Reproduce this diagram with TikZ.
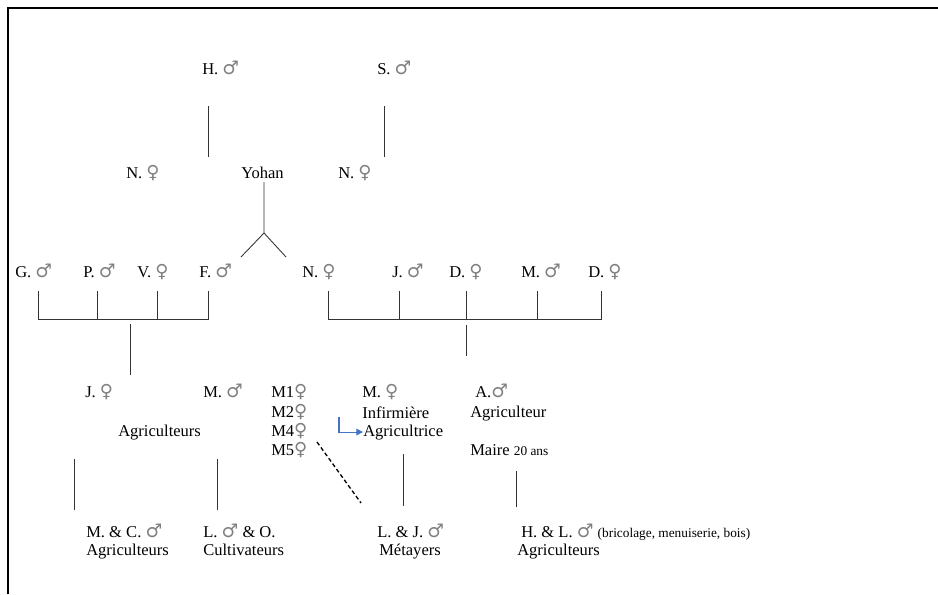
\documentclass[tikz,border=0pt]{standalone}
\usepackage{fontspec}
\setmainfont{Liberation Serif}
\newfontfamily\symfont{DejaVu Sans}
\usetikzlibrary{arrows.meta}

\definecolor{linkblue}{HTML}{4472C4}
\newcommand{\masc}{\textcolor{black!50}{\symfont\fontsize{14}{14}\selectfont ♂}}
\newcommand{\femi}{\textcolor{black!50}{\symfont\fontsize{13.5}{14}\selectfont ♀}}

\tikzset{
  person/.style={anchor=base west, inner sep=0pt, font=\fontsize{12.4}{14}\selectfont},
  link/.style={draw=black!80, line width=0.65pt},
  frameline/.style={draw=black, line width=1.4pt},
  bluearrow/.style={draw=linkblue, line width=0.8pt, -{Triangle[length=5pt,width=5pt]}},
}

\begin{document}
\begin{tikzpicture}[x=0.75pt,y=-0.75pt]
  \useasboundingbox (0,0) rectangle (938,594);
  \draw[frameline] (8,594) -- (8,8) -- (938,8);

  % grandparents
  \node[person] (h) at (202,74) {H. \masc};
  \node[person] (s) at (377,74) {S. \masc};
  \node[person] (nl) at (126,178) {N. \femi};
  \node[person] (yohan) at (241,178) {Yohan};
  \node[person] (nr) at (338,178) {N. \femi};
  \draw[link] (208,106) -- (208,157);
  \draw[link] (384,106) -- (384,157);
  \draw[link] (264,182) -- (264,233) -- (241,257);
  \draw[link] (264,233) -- (286,257);

  % children
  \node[person] (g) at (15,277) {G. \masc};
  \node[person] (p) at (83,277) {P. \masc};
  \node[person] (v) at (137,277) {V. \femi};
  \node[person] (f) at (199,277) {F. \masc};
  \node[person] (n) at (302,277) {N. \femi};
  \node[person] (j) at (392,277) {J. \masc};
  \node[person] (d1) at (449,277) {D. \femi};
  \node[person] (m) at (521,277) {M. \masc};
  \node[person] (d2) at (588,277) {D. \femi};

  \draw[link] (38,291) |- (208,319) -- (208,291);
  \foreach \x in {97,157} \draw[link] (\x,291) -- (\x,319);
  \draw[link] (130,324) -- (130,375);
  \draw[link] (328,291) |- (601,319) -- (601,291);
  \foreach \x in {399,466,537} \draw[link] (\x,291) -- (\x,319);
  \draw[link] (466,325) -- (466,356);

  % grandchildren
  \node[person] (jf) at (85,397) {J. \femi};
  \node[person] (mm) at (203,397) {M. \masc};
  \node[person] (agrs) at (118,436) {Agriculteurs};
  \node[person] (m1) at (271,397) {M1\femi};
  \node[person] (m2) at (271,417) {M2\femi};
  \node[person] (m4) at (271,436) {M4\femi};
  \node[person] (m5) at (271,455) {M5\femi};
  \node[person] (mf) at (362,397) {M. \femi};
  \node[person] (inf) at (362,418) {Infirmière};
  \node[person] (agri) at (363,436) {Agricultrice};
  \node[person] (a) at (475,397) {A.\masc};
  \node[person] (agr) at (470,417) {Agriculteur};
  \node[person] (maire) at (470,455) {Maire {\fontsize{10}{12}\selectfont 20 ans}};
  \draw[bluearrow] (339,417) |- (agri.west);

  \draw[link] (74,459) -- (74,510);
  \draw[link] (217,459) -- (217,510);
  \draw[draw=black, line width=1pt, dash pattern=on 3pt off 2pt] (317,442) -- (361,503);
  \draw[link] (403,454) -- (403,506);
  \draw[link] (516,471) -- (516,507);

  % great-grandchildren
  \node[person] (mc) at (86,537) {M. \& C. \masc};
  \node[person] (mcagr) at (86,555) {Agriculteurs};
  \node[person] (lo) at (203,537) {L. \masc{} \& O.};
  \node[person] (locult) at (203,555) {Cultivateurs};
  \node[person] (lj) at (377,537) {L. \& J. \masc};
  \node[person] (ljmet) at (379,555) {Métayers};
  \node[person] (hl) at (521,537) {H. \& L. \masc{} {\fontsize{10}{12}\selectfont (bricolage, menuiserie, bois)}};
  \node[person] (hlagr) at (517,555) {Agriculteurs};
\end{tikzpicture}
\end{document}
